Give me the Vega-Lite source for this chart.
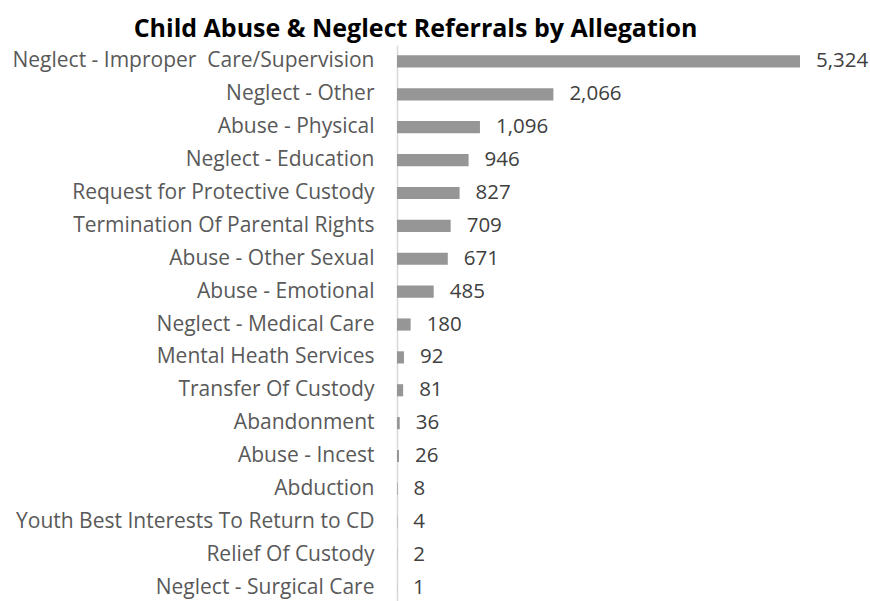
{
  "$schema": "https://vega.github.io/schema/vega-lite/v6.json",
  "autosize": {"type": "none"},
  "padding": {"left": 397, "top": 45, "right": 70, "bottom": 0},
  "width": 403,
  "height": 559,
  "background": "white",
  "title": {
    "text": "Child Abuse & Neglect Referrals by Allegation",
    "font": "Open Sans",
    "fontSize": 25,
    "fontWeight": "bold",
    "color": "#000000",
    "anchor": "middle",
    "dx": -183,
    "offset": 3
  },
  "data": {
    "values": [
      {"allegation": "Neglect - Improper\u00a0 Care/Supervision", "count": 5324},
      {"allegation": "Neglect - Other", "count": 2066},
      {"allegation": "Abuse - Physical", "count": 1096},
      {"allegation": "Neglect - Education", "count": 946},
      {"allegation": "Request for Protective Custody", "count": 827},
      {"allegation": "Termination Of Parental Rights", "count": 709},
      {"allegation": "Abuse - Other Sexual", "count": 671},
      {"allegation": "Abuse - Emotional", "count": 485},
      {"allegation": "Neglect - Medical Care", "count": 180},
      {"allegation": "Mental Heath Services", "count": 92},
      {"allegation": "Transfer Of Custody", "count": 81},
      {"allegation": "Abandonment", "count": 36},
      {"allegation": "Abuse - Incest", "count": 26},
      {"allegation": "Abduction", "count": 8},
      {"allegation": "Youth Best Interests To Return to CD", "count": 4},
      {"allegation": "Relief Of Custody", "count": 2},
      {"allegation": "Neglect - Surgical Care", "count": 1}
    ]
  },
  "encoding": {
    "y": {
      "field": "allegation",
      "type": "nominal",
      "sort": null,
      "scale": {"paddingInner": 0.63, "paddingOuter": 0.315},
      "axis": {
        "title": null,
        "ticks": false,
        "domain": true,
        "domainColor": "#d9d9d9",
        "domainWidth": 1.5,
        "labelFont": "Open Sans",
        "labelFontSize": 21,
        "labelColor": "#595959",
        "labelPadding": 23,
        "labelLimit": 500
      }
    },
    "x": {
      "field": "count",
      "type": "quantitative",
      "scale": {"domain": [0, 5324], "nice": false},
      "axis": null
    }
  },
  "layer": [
    {"mark": {"type": "bar", "color": "#969696"}},
    {
      "mark": {"type": "text", "align": "left", "baseline": "middle", "dx": 16, "font": "Open Sans", "fontSize": 20.5, "color": "#404040"},
      "encoding": {"text": {"field": "count", "type": "quantitative", "format": ","}}
    }
  ],
  "config": {"view": {"stroke": null}}
}
